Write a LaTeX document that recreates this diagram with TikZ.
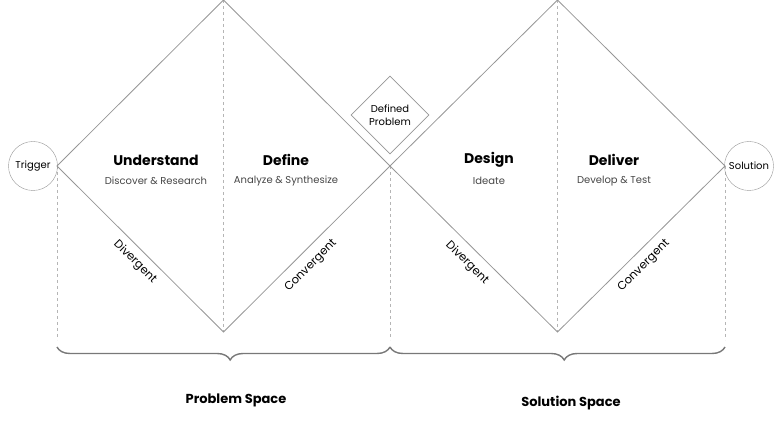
\documentclass[tikz,border=0pt]{standalone}
\usepackage{fontspec}
\setmainfont{Poppins}
\usetikzlibrary{positioning,decorations.pathreplacing,shapes.geometric}
\definecolor{edge}{RGB}{150,150,150}
\definecolor{subtxt}{RGB}{70,70,70}
\tikzset{
  phase/.style={draw=edge,line width=0.8pt},
  guide/.style={draw=edge!70,dashed,line width=0.4pt},
  endpt/.style={draw=edge,circle,minimum size=49pt,inner sep=0pt,font=\fontsize{10}{11}\selectfont},
  head/.style={font=\bfseries\fontsize{14}{16}\selectfont},
  sub/.style={font=\fontsize{10}{12}\selectfont,text=subtxt},
  side/.style={font=\fontsize{11.5}{13}\selectfont},
  span/.style={draw=edge!80!black,line width=1.4pt,decorate,decoration={brace,mirror,amplitude=13pt}},
  spacelbl/.style={font=\bfseries\fontsize{13}{15}\selectfont}
}
\begin{document}
\begin{tikzpicture}[x=1pt,y=-1pt]
\useasboundingbox (0,0) rectangle (780,422);
% diamonds
\coordinate (l) at (57,166);
\coordinate (lt) at (223.5,0);
\coordinate (lb) at (223.5,332);
\coordinate (m) at (390,166);
\coordinate (rt) at (557.5,0);
\coordinate (rb) at (557.5,332);
\coordinate (r) at (725,166);
\draw[guide] (lt) -- (lb);
\draw[guide] (rt) -- (rb);
\draw[guide] (l) -- (57,340);
\draw[guide] (m) -- (390,340);
\draw[guide] (r) -- (725,340);
\draw[phase] (l) -- (lt) -- (m) -- (lb) -- cycle;
\draw[phase] (m) -- (rt) -- (r) -- (rb) -- cycle;
% end points
\node[endpt] (trig) at (33,166) {Trigger};
\node[endpt] (sol) at (749,166) {Solution};
\node[draw=edge,line width=0.8pt,diamond,minimum size=78pt,inner sep=0pt,align=center,
  font=\fontsize{10}{13}\selectfont,fill=white] (dp) at (390,115) {Defined\\Problem};
% phase labels
\node[head] (und) at (156,160) {Understand};
\node[sub] at (156,181) {Discover \& Research};
\node[head] (def) at (286,160) {Define};
\node[sub] at (286,181) {Analyze \& Synthesize};
\node[head] (des) at (489,160) {Design};
\node[sub] at (489,181) {Ideate};
\node[head] (del) at (614,160) {Deliver};
\node[sub] at (614,181) {Develop \& Test};
\node[side,rotate=-45] at (135,262) {Divergent};
\node[side,rotate=45] at (311,266) {Convergent};
\node[side,rotate=-45] at (467,263) {Divergent};
\node[side,rotate=45] at (644,266) {Convergent};
% spaces
\coordinate (b1) at (57,347);
\coordinate (b2) at (390,347);
\coordinate (b3) at (725,347);
\draw[span,decoration={aspect=0.52}] (b1) -- (b2);
\draw[span,decoration={aspect=0.52}] (b2) -- (b3);
\node[spacelbl] at (236,400) {Problem Space};
\node[spacelbl] at (571,403) {Solution Space};
\end{tikzpicture}
\end{document}
